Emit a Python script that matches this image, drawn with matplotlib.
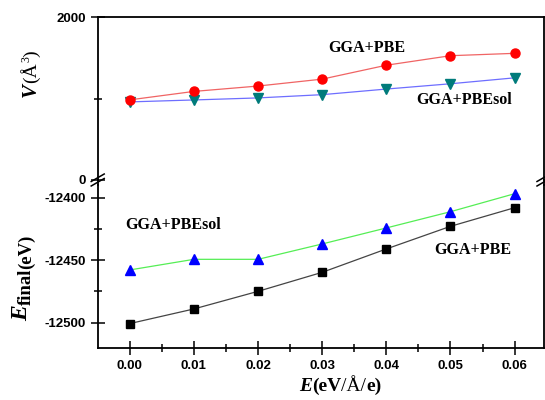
import matplotlib
matplotlib.use("Agg")
import matplotlib.pyplot as plt
from matplotlib.lines import Line2D
from matplotlib.transforms import IdentityTransform

# ---------------- data ----------------
field = [0.00, 0.01, 0.02, 0.03, 0.04, 0.05, 0.06]
vol_pbe = [985, 1089, 1155, 1240, 1411, 1528, 1557]
vol_pbesol = [960, 984, 1009, 1049, 1118, 1183, 1256]
e_pbesol = [-12457.8, -12449.3, -12449.3, -12437.0, -12424.2, -12411.2, -12396.8]
e_pbe = [-12500.7, -12489.0, -12474.9, -12459.7, -12441.0, -12422.9, -12408.0]

xticks = [0.00, 0.01, 0.02, 0.03, 0.04, 0.05, 0.06]
xtick_labels = ["0.00", "0.01", "0.02", "0.03", "0.04", "0.05", "0.06"]
top_yticks = [0, 2000]
bot_yticks = [-12500, -12450, -12400]

plt.rcParams["font.family"] = ["Liberation Sans", "DejaVu Sans"]
plt.rcParams["font.weight"] = "bold"

W, H = 545, 400
fig = plt.figure(figsize=(W / 100, H / 100), dpi=100)
fig.patch.set_facecolor("white")


def fx(x):
    return x / W


def fy(y):
    return 1 - y / H


L, R = 97.7, 543.5
ax_top = fig.add_axes([fx(L), fy(180), (R - L) / W, (180 - 17.3) / H])
ax_bot = fig.add_axes([fx(L), fy(347.7), (R - L) / W, (347.7 - 185.2) / H])

lw_sp = 1.3
for ax in (ax_top, ax_bot):
    ax.set_xlim(-0.005, 0.0645)
    for s in ax.spines.values():
        s.set_linewidth(lw_sp)
    ax.tick_params(which="major", direction="inout", length=9.5, width=1.1,
                   labelsize=9.5, pad=4)
    ax.tick_params(which="minor", direction="inout", length=5.5, width=1.1)
    ax.tick_params(axis="both", top=False, right=False)

# top panel
ax_top.spines["bottom"].set_visible(False)
ax_top.set_ylim(0, 2000)
ax_top.set_yticks(top_yticks)
ax_top.set_yticklabels([str(v) for v in top_yticks])
ax_top.set_yticks([1000], minor=True)
ax_top.tick_params(axis="x", which="both", bottom=False, labelbottom=False)
ax_top.set_xticks(xticks)

ax_top.plot(field, vol_pbe, color="#f06464", lw=0.9, marker="o", ms=6.5,
            mfc="#ff0000", mec="#ff0000", zorder=4)
ax_top.plot(field, vol_pbesol, color="#6e6eff", lw=0.9, marker="v", ms=7.5,
            mfc="#007b7b", mec="#007b7b", zorder=3)

# bottom panel
ax_bot.spines["top"].set_visible(False)
ax_bot.set_ylim(-12520, -12390)
ax_bot.set_yticks(bot_yticks)
ax_bot.set_yticklabels([str(v) for v in bot_yticks])
ax_bot.set_yticks([-12475, -12425], minor=True)
ax_bot.set_xticks(xticks)
ax_bot.set_xticklabels(xtick_labels)
ax_bot.set_xticks([0.005, 0.015, 0.025, 0.035, 0.045, 0.055], minor=True)

ax_bot.plot(field, e_pbesol, color="#55ee55", lw=0.9, marker="^", ms=7.5,
            mfc="#0000ff", mec="#0000ff", zorder=4)
ax_bot.plot(field, e_pbe, color="#444444", lw=0.9, marker="s", ms=6,
            mfc="#000000", mec="#000000", zorder=3)

ser_b = dict(family="Liberation Serif", weight="bold")
fs_ann = 11.5
ax_top.text(0.0370, 1625, "GGA+PBE", fontsize=fs_ann, ha="center", va="center", **ser_b)
ax_top.text(0.0521, 985, "GGA+PBEsol", fontsize=fs_ann, ha="center", va="center", **ser_b)
ax_bot.text(0.0067, -12422, "GGA+PBEsol", fontsize=fs_ann, ha="center", va="center", **ser_b)
ax_bot.text(0.0535, -12442, "GGA+PBE", fontsize=fs_ann, ha="center", va="center", **ser_b)

# spine continuation through the break and break marks
for xs in (L, R):
    fig.add_artist(Line2D([fx(xs), fx(xs)], [fy(180), fy(185.2)], color="black",
                          lw=lw_sp, transform=fig.transFigure))
    for off in (0, 4.5):
        fig.add_artist(Line2D([fx(xs - 6.5), fx(xs + 6.5)],
                              [fy(186 - off), fy(178.5 - off)], color="black",
                              lw=1.1, transform=fig.transFigure))

# composite axis labels
renderer = fig.canvas.get_renderer()


def chain(parts, x, y, rot=0):
    """x, y: pixel position (from top-left) of baseline start."""
    X, Y = x, H - y
    for s, kw, shift in parts:
        if rot == 0:
            t = fig.text(X, Y + shift, s, transform=IdentityTransform(),
                         ha="left", va="baseline", **kw)
            X += t.get_window_extent(renderer).width
        else:
            t = fig.text(X - shift, Y, s, transform=IdentityTransform(),
                         rotation=90, rotation_mode="anchor",
                         ha="left", va="baseline", **kw)
            Y += t.get_window_extent(renderer).height


bi = dict(family="Liberation Serif", weight="bold", style="italic")
bn = dict(family="Liberation Serif", weight="bold")
rn = dict(family="Liberation Serif", weight="normal")

chain([("E", dict(bi, fontsize=14), 0),
       ("(eV", dict(bn, fontsize=14), 0),
       ("/Å/", dict(rn, fontsize=14), 0),
       ("e)", dict(bn, fontsize=14), 0)], 299, 391)

chain([("V", dict(bi, fontsize=15), 0),
       ("(Å", dict(rn, fontsize=14), 0),
       ("3", dict(rn, fontsize=8.5), 7),
       (")", dict(rn, fontsize=14), 0)], 36, 97, rot=90)

chain([("E", dict(bi, fontsize=17), 0),
       ("final", dict(bn, fontsize=13.5), -4),
       ("(eV)", dict(bn, fontsize=13.5), -4)], 27, 321, rot=90)

fig.savefig("out.png", dpi=100, facecolor="white")
